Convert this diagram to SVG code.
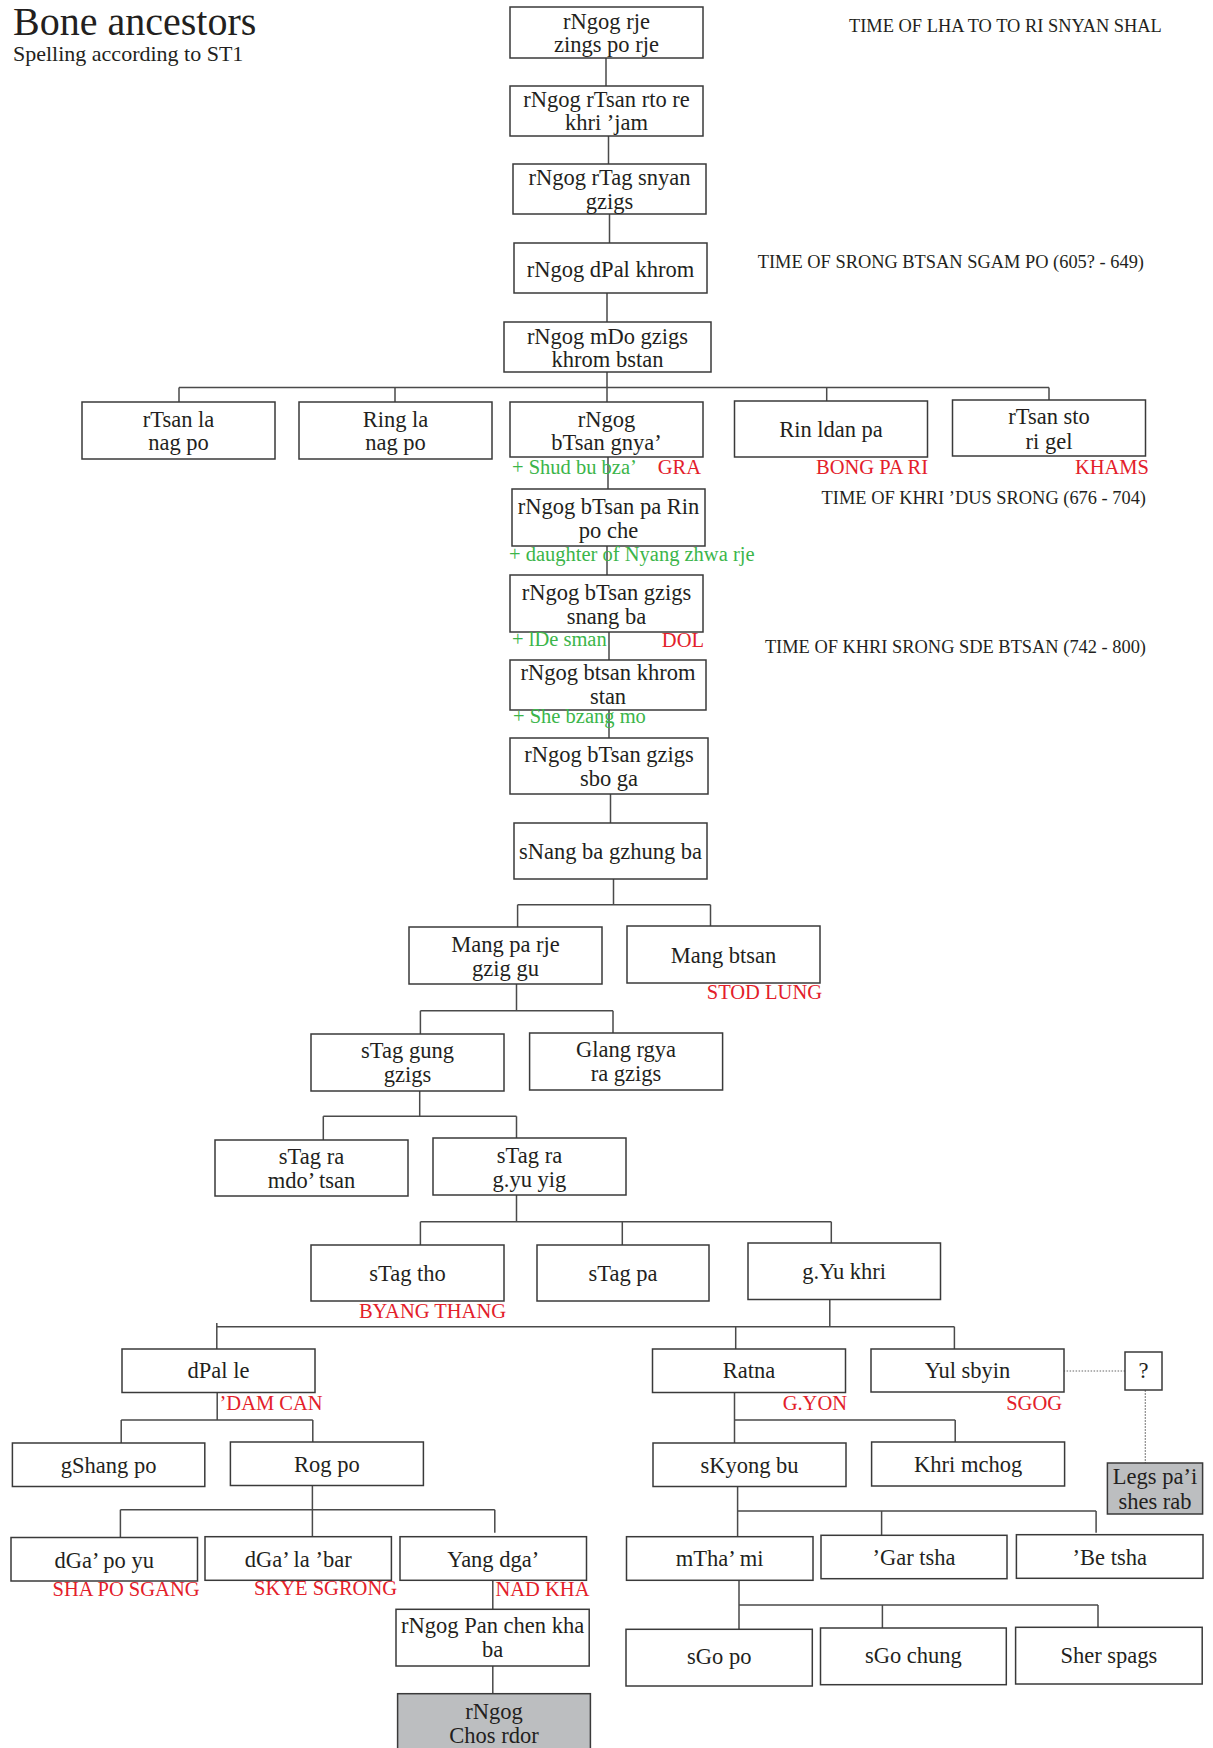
<svg xmlns="http://www.w3.org/2000/svg" width="1213" height="1748" viewBox="0 0 1213 1748">
<style>
text{font-family:"Liberation Serif","Times New Roman",serif;fill:#231f20}
.n rect{fill:#fff;stroke:#3a3a3a;stroke-width:1.5}
.n.g rect{fill:#bcbec0}
.n text{font-size:22.5px;text-anchor:middle}
.red{fill:#e3202a;font-size:20.5px}
.grn{fill:#3bb54a;font-size:20.5px}
.time{font-size:18.4px}
#connectors path{fill:none;stroke:#4a4a4a;stroke-width:1.5}
#connectors path.dot{stroke:#666;stroke-width:1.2;stroke-dasharray:1.5 1.5}
</style>
<rect width="1213" height="1748" fill="#fff"/>
<text x="13" y="35" style="font-size:40px">Bone ancestors</text>
<text x="13" y="61" style="font-size:22px">Spelling according to ST1</text>
<text class="time" x="849" y="31.5">TIME OF LHA TO TO RI SNYAN SHAL</text>
<text class="time" x="1144" y="268" text-anchor="end">TIME OF SRONG BTSAN SGAM PO (605? - 649)</text>
<text class="time" x="1146" y="503.5" text-anchor="end">TIME OF KHRI ’DUS SRONG (676 - 704)</text>
<text class="time" x="1146" y="653" text-anchor="end">TIME OF KHRI SRONG SDE BTSAN (742 - 800)</text>
<g id="connectors">
<path d="M606 58V86M608.5 136V164M609.5 214V243M607 293V322M607 372V387.5"/>
<path d="M179 387.5H1049M179 387.5V402M395 387.5V402M607 387.5V402M826.7 387.5V401M1049 387.5V400"/>
<path d="M608 457V489M607 546V575M609 632V660M609 710V738M610.5 794V823"/>
<path d="M613.5 879V904.7M517.6 904.7H710.5M517.6 904.7V927M710.5 904.7V926"/>
<path d="M516.5 984V1010.7M420.4 1010.7H613M420.4 1010.7V1034M613 1010.7V1033"/>
<path d="M419.7 1090.7V1116.3M323.3 1116.3H516.5M323.3 1116.3V1140M516.5 1116.3V1138"/>
<path d="M516.5 1195V1221.7M420.4 1221.7H831.3M420.4 1221.7V1245M622.3 1221.7V1245M831.3 1221.7V1243"/>
<path d="M829.8 1300V1326.7M216.8 1326.7H954.4M216.8 1323V1349M735.7 1326.7V1349M954.4 1326.7V1349"/>
<path d="M217.2 1392.7V1420M121.2 1420H312.8M121.2 1420V1443M312.8 1420V1442"/>
<path d="M312.4 1486V1509.7M120.4 1509.7H494.8M120.4 1509.7V1537.7M312.4 1509.7V1536.7M494.8 1509.7V1532.7"/>
<path d="M492.8 1580V1609.3M492.8 1666V1693.7"/>
<path d="M734.5 1392.7V1443.3M734.5 1420H955.2M955.2 1420V1442"/>
<path d="M737.6 1487V1536.7M737.6 1511H1096.1M881.6 1511V1535.3M1096.1 1511V1532.7"/>
<path d="M739 1580.3V1629.3M739 1605H1098M882.4 1605V1628M1098 1605V1627.3"/>
<path class="dot" d="M1063.6 1371H1125.2M1145.3 1390.3V1463.3"/>
</g>
<g id="n1" class="n"><rect x="510" y="7" width="193" height="51"/><text x="606.5" y="28.5">rNgog rje</text><text x="606.5" y="52">zings po rje</text></g>
<g id="n2" class="n"><rect x="510" y="86" width="193" height="50"/><text x="606.5" y="106.5">rNgog rTsan rto re</text><text x="606.5" y="130">khri ’jam</text></g>
<g id="n3" class="n"><rect x="513" y="164" width="193" height="50"/><text x="609.5" y="185">rNgog rTag snyan</text><text x="609.5" y="208.5">gzigs</text></g>
<g id="n4" class="n"><rect x="514" y="243" width="193" height="50"/><text x="610.5" y="276.5">rNgog dPal khrom</text></g>
<g id="n5" class="n"><rect x="504" y="322" width="207" height="50"/><text x="607.5" y="343.5">rNgog mDo gzigs</text><text x="607.5" y="367">khrom bstan</text></g>
<g id="n6" class="n"><rect x="82" y="402" width="193" height="57"/><text x="178.5" y="426.5">rTsan la</text><text x="178.5" y="450">nag po</text></g>
<g id="n7" class="n"><rect x="299" y="402" width="193" height="57"/><text x="395.5" y="426.5">Ring la</text><text x="395.5" y="450">nag po</text></g>
<g id="n8" class="n"><rect x="510" y="402" width="193" height="55"/><text x="606.5" y="426.5">rNgog</text><text x="606.5" y="449.5">bTsan gnya’</text></g>
<g id="n9" class="n"><rect x="734.5" y="401" width="193" height="56"/><text x="831" y="436.5">Rin ldan pa</text></g>
<g id="n10" class="n"><rect x="952.5" y="400" width="193" height="56"/><text x="1049" y="423.5">rTsan sto</text><text x="1049" y="448.5">ri gel</text></g>
<g id="n11" class="n"><rect x="512" y="489" width="193" height="57"/><text x="608.5" y="513.5">rNgog bTsan pa Rin</text><text x="608.5" y="537.5">po che</text></g>
<g id="n12" class="n"><rect x="510" y="575" width="193" height="57"/><text x="606.5" y="599.5">rNgog bTsan gzigs</text><text x="606.5" y="623.5">snang ba</text></g>
<g id="n13" class="n"><rect x="510" y="660" width="196" height="50"/><text x="608" y="680">rNgog btsan khrom</text><text x="608" y="703.5">stan</text></g>
<g id="n14" class="n"><rect x="510" y="738" width="198" height="56"/><text x="609" y="762">rNgog bTsan gzigs</text><text x="609" y="786">sbo ga</text></g>
<g id="n15" class="n"><rect x="514" y="823" width="193" height="56"/><text x="610.5" y="858.5">sNang ba gzhung ba</text></g>
<g id="n16" class="n"><rect x="409" y="927" width="193" height="57"/><text x="505.5" y="951.5">Mang pa rje</text><text x="505.5" y="975.5">gzig gu</text></g>
<g id="n17" class="n"><rect x="627" y="926" width="193" height="57"/><text x="723.5" y="963">Mang btsan</text></g>
<g id="n18" class="n"><rect x="311" y="1034" width="193" height="57"/><text x="407.5" y="1058">sTag gung</text><text x="407.5" y="1082">gzigs</text></g>
<g id="n19" class="n"><rect x="529.6" y="1033" width="193" height="57"/><text x="626" y="1057">Glang rgya</text><text x="626" y="1081">ra gzigs</text></g>
<g id="n20" class="n"><rect x="215" y="1140" width="193" height="56"/><text x="311.5" y="1163.5">sTag ra</text><text x="311.5" y="1187.5">mdo’ tsan</text></g>
<g id="n21" class="n"><rect x="433" y="1138" width="193" height="57"/><text x="529.5" y="1162.5">sTag ra</text><text x="529.5" y="1186.5">g.yu yig</text></g>
<g id="n22" class="n"><rect x="311" y="1245" width="193" height="56"/><text x="407.5" y="1280.5">sTag tho</text></g>
<g id="n23" class="n"><rect x="537" y="1245" width="172" height="56"/><text x="623" y="1280.5">sTag pa</text></g>
<g id="n24" class="n"><rect x="748" y="1243" width="192.5" height="56.5"/><text x="844.2" y="1279">g.Yu khri</text></g>
<g id="n25" class="n"><rect x="122" y="1349" width="193" height="43.5"/><text x="218.5" y="1377.5">dPal le</text></g>
<g id="n26" class="n"><rect x="652.5" y="1349" width="193" height="43.5"/><text x="749" y="1378">Ratna</text></g>
<g id="n27" class="n"><rect x="871" y="1349" width="193" height="43"/><text x="967.5" y="1377.5">Yul sbyin</text></g>
<g id="n28" class="n"><rect x="1125" y="1352" width="37" height="38"/><text x="1143.5" y="1378">?</text></g>
<g id="n29" class="n"><rect x="12.4" y="1443" width="192.4" height="43.5"/><text x="108.6" y="1472.5">gShang po</text></g>
<g id="n30" class="n"><rect x="230.4" y="1442" width="193" height="43.5"/><text x="326.9" y="1472">Rog po</text></g>
<g id="n31" class="n"><rect x="653" y="1443" width="193" height="43.5"/><text x="749.5" y="1472.5">sKyong bu</text></g>
<g id="n32" class="n"><rect x="871.6" y="1442" width="193" height="44"/><text x="968.1" y="1472">Khri mchog</text></g>
<g id="n33" class="n g"><rect x="1107.4" y="1463" width="95.2" height="51"/><text x="1155" y="1483.5">Legs pa’i</text><text x="1155" y="1508.5">shes rab</text></g>
<g id="n34" class="n"><rect x="11" y="1537.5" width="186.5" height="43.5"/><text x="104.2" y="1567.5">dGa’ po yu</text></g>
<g id="n35" class="n"><rect x="205" y="1536.7" width="186.4" height="43.6"/><text x="298.2" y="1567">dGa’ la ’bar</text></g>
<g id="n36" class="n"><rect x="400" y="1536.7" width="186.5" height="43.6"/><text x="493.2" y="1567">Yang dga’</text></g>
<g id="n37" class="n"><rect x="626.5" y="1536.7" width="186.5" height="43.6"/><text x="719.7" y="1566">mTha’ mi</text></g>
<g id="n38" class="n"><rect x="821" y="1535.3" width="186" height="43.4"/><text x="914" y="1565">’Gar tsha</text></g>
<g id="n39" class="n"><rect x="1016.4" y="1534.7" width="186.6" height="43.6"/><text x="1109.7" y="1565">’Be tsha</text></g>
<g id="n40" class="n"><rect x="396" y="1609.3" width="193.2" height="56.7"/><text x="492.6" y="1632.7">rNgog Pan chen kha</text><text x="492.6" y="1657">ba</text></g>
<g id="n41" class="n"><rect x="626" y="1629.3" width="186.3" height="56.7"/><text x="719.2" y="1664">sGo po</text></g>
<g id="n42" class="n"><rect x="820.5" y="1628" width="185.8" height="56.7"/><text x="913.4" y="1663">sGo chung</text></g>
<g id="n43" class="n"><rect x="1015.6" y="1627.3" width="186.6" height="56.7"/><text x="1108.9" y="1662.5">Sher spags</text></g>
<g id="n44" class="n g"><rect x="397.6" y="1693.7" width="192.8" height="62"/><text x="494" y="1719">rNgog</text><text x="494" y="1742.5">Chos rdor</text></g>
<g id="labels">
<text class="grn" x="512" y="473.5">+ Shud bu bza’</text>
<text class="red" x="701" y="473.5" text-anchor="end">GRA</text>
<text class="red" x="928" y="473.5" text-anchor="end">BONG PA RI</text>
<text class="red" x="1149" y="473.5" text-anchor="end">KHAMS</text>
<text class="grn" x="509" y="561">+ daughter of Nyang zhwa rje</text>
<text class="grn" x="512" y="645.5">+ lDe sman</text>
<text class="red" x="704" y="647" text-anchor="end">DOL</text>
<text class="grn" x="513" y="722.5">+ She bzang mo</text>
<text class="red" x="822" y="999" text-anchor="end">STOD LUNG</text>
<text class="red" x="506" y="1317.5" text-anchor="end">BYANG THANG</text>
<text class="red" x="219.5" y="1409.5">’DAM CAN</text>
<text class="red" x="847" y="1410" text-anchor="end">G.YON</text>
<text class="red" x="1062" y="1410" text-anchor="end">SGOG</text>
<text class="red" x="199.5" y="1596" text-anchor="end">SHA PO SGANG</text>
<text class="red" x="397" y="1595" text-anchor="end">SKYE SGRONG</text>
<text class="red" x="495.5" y="1596">NAD KHA</text>
</g>
</svg>
